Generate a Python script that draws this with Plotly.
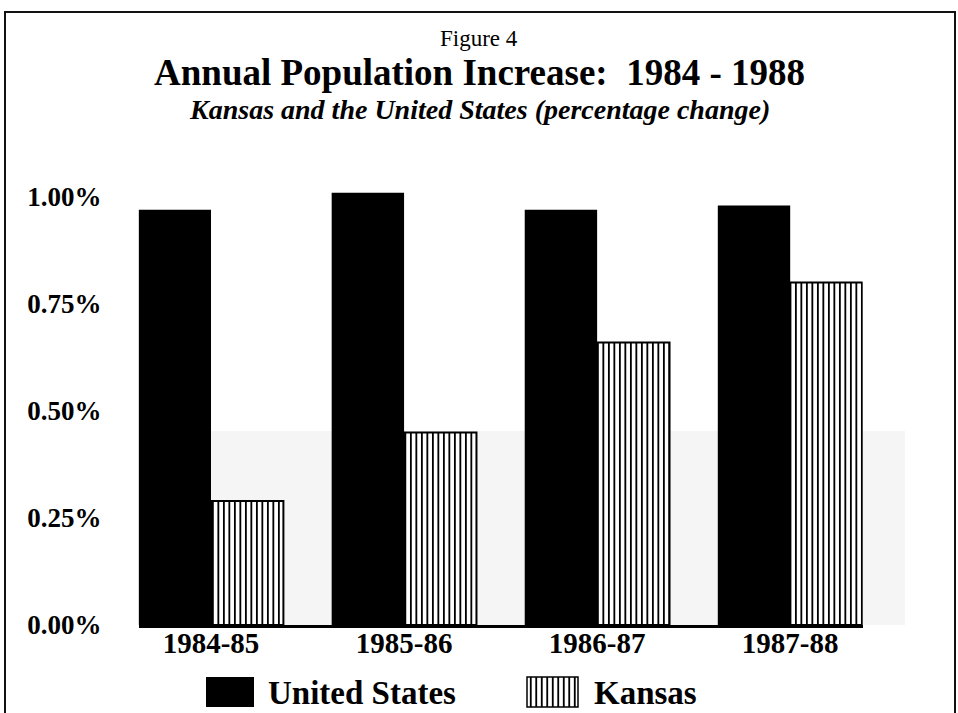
import plotly.graph_objects as go

# Annual population growth, percent
periods = ["1984-85", "1985-86", "1986-87", "1987-88"]
us_growth = [0.97, 1.01, 0.97, 0.98]
kansas_growth = [0.29, 0.45, 0.66, 0.80]
series_names = ["United States", "Kansas"]
y_ticks = [0.0, 0.25, 0.5, 0.75, 1.0]

W, H = 958, 713
SERIF = "Liberation Serif, Times New Roman, serif"


def px_x(p):
    return p / W


def px_y(p):
    return 1 - p / H


# plot area in pixels
x_left, x_right = 138.6, 862.6
y_base, y_max = 625.0, 1.05
px_per_unit = 428.0
y_top = y_base - y_max * px_per_unit

kansas_pattern = dict(shape="|", fgcolor="black", bgcolor="white", size=5.5, solidity=0.34)

fig = go.Figure()

fig.add_trace(go.Bar(
    x=periods, y=us_growth, name=series_names[0],
    marker=dict(color="black", line=dict(color="black", width=0)),
    showlegend=False,
))
fig.add_trace(go.Bar(
    x=periods, y=kansas_growth, name=series_names[1],
    marker=dict(color="white", pattern=kansas_pattern, line=dict(color="black", width=2)),
    showlegend=False,
))

# Legend keys drawn as bars on a pixel-scaled overlay axis
key_left = [206, 527]
key_width = [48, 51]
key_top, key_bottom = 677, 707
fig.add_trace(go.Bar(
    x=[key_left[0] + key_width[0] / 2], y=[key_bottom - key_top], base=[key_top],
    width=[key_width[0]], xaxis="x2", yaxis="y2",
    marker=dict(color="black", line=dict(width=0)), showlegend=False, hoverinfo="skip",
))
fig.add_trace(go.Bar(
    x=[key_left[1] + key_width[1] / 2], y=[key_bottom - key_top], base=[key_top],
    width=[key_width[1]], xaxis="x2", yaxis="y2",
    marker=dict(color="white", pattern=kansas_pattern, line=dict(color="black", width=1.5)),
    showlegend=False, hoverinfo="skip",
))

annotations = [
    dict(text="Figure 4", x=0.5, y=px_y(38.5), xref="paper", yref="paper",
         showarrow=False, yanchor="middle", font=dict(family=SERIF, size=23, color="black")),
    dict(text="<b>Annual Population Increase:  1984 - 1988</b>", x=0.5, y=px_y(72.5),
         xref="paper", yref="paper", showarrow=False, yanchor="middle",
         font=dict(family=SERIF, size=37, color="black")),
    dict(text="<b><i>Kansas and the United States (percentage change)</i></b>", x=0.5,
         y=px_y(109.5), xref="paper", yref="paper", showarrow=False, yanchor="middle",
         font=dict(family=SERIF, size=28, color="black")),
    dict(text="<b>" + series_names[0] + "</b>", x=px_x(266), y=px_y(693), xref="paper",
         yref="paper", showarrow=False, xanchor="left", yanchor="middle",
         font=dict(family=SERIF, size=33, color="black")),
    dict(text="<b>" + series_names[1] + "</b>", x=px_x(592), y=px_y(693), xref="paper",
         yref="paper", showarrow=False, xanchor="left", yanchor="middle",
         font=dict(family=SERIF, size=33, color="black")),
]

shapes = [
    # light stippled haze behind the lower part of the bars
    dict(type="rect", xref="paper", yref="paper", x0=px_x(140), x1=px_x(905),
         y0=px_y(625), y1=px_y(431), fillcolor="rgba(0,0,0,0.04)", line=dict(width=0),
         layer="below"),
    # page frame (open at the bottom)
    dict(type="path", xref="paper", yref="paper",
         path=f"M {px_x(5)} {px_y(720)} L {px_x(5)} {px_y(12)} L {px_x(955)} {px_y(12)} L {px_x(955)} {px_y(720)}",
         line=dict(color="#111", width=2)),
]

fig.update_layout(
    template="none",
    width=W, height=H,
    margin=dict(l=0, r=0, t=0, b=0, pad=0),
    paper_bgcolor="white", plot_bgcolor="rgba(0,0,0,0)",
    barmode="group", bargap=0.25, bargroupgap=0,
    font=dict(family=SERIF, color="black"),
    xaxis=dict(
        domain=[px_x(x_left), px_x(x_right)], range=[-0.375, 3.375], automargin=False,
        showgrid=False, zeroline=False, showline=True, linecolor="black", linewidth=3,
        ticks="", tickfont=dict(family=SERIF, size=29, color="black"),
        tickprefix="<b>", ticksuffix="</b>", ticklabelstandoff=-10, fixedrange=True,
    ),
    yaxis=dict(
        domain=[px_y(y_base), px_y(y_top)], range=[0, y_max], automargin=False,
        tickvals=y_ticks, ticktext=[f"<b>{v:.2f}%</b>" for v in y_ticks],
        showgrid=False, zeroline=False, showline=False, ticks="",
        tickfont=dict(family=SERIF, size=27, color="black"),
        ticklabelstandoff=36, fixedrange=True,
    ),
    xaxis2=dict(domain=[0, 1], range=[0, W], visible=False, anchor="y2",
                automargin=False, fixedrange=True),
    yaxis2=dict(domain=[0, 1], range=[H, 0], visible=False, anchor="x2",
                automargin=False, fixedrange=True),
    annotations=annotations,
    shapes=shapes,
)

fig.write_html("out.html")
